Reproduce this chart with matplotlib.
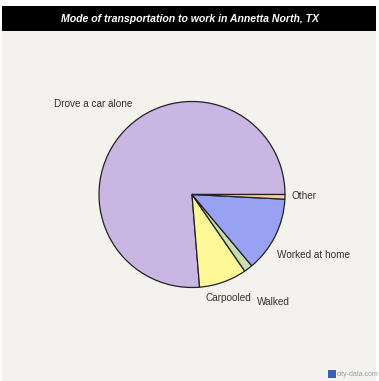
import matplotlib.pyplot as plt
from matplotlib.patches import Rectangle

# Commute mode shares (percent)
modes = ["Drove a car alone", "Carpooled", "Walked", "Worked at home", "Other"]
shares = [76.3, 8.3, 1.5, 13.1, 0.8]
colors = ["#c9b6e2", "#fff899", "#c6deb2", "#99a1f2", "#f5cf9e"]

W, H = 379, 381
fig = plt.figure(figsize=(W / 100, H / 100), dpi=100, facecolor="white")
ax = fig.add_axes([0, 0, 1, 1])

# panel background and title bar
ax.add_patch(Rectangle((2, 0), 374, H - 31, facecolor="#f3f2ee", edgecolor="none"))
ax.add_patch(Rectangle((2, H - 31), 374, 25, facecolor="black", edgecolor="none"))
ax.text(190, H - 18.5, "Mode of transportation to work in Annetta North, TX",
        ha="center", va="center", color="white", fontsize=7.6,
        fontweight="bold", fontstyle="italic", family="Liberation Sans")

ax.pie(shares, colors=colors, startangle=0, counterclock=True,
       center=(192, H - 194.5), radius=93,
       wedgeprops=dict(edgecolor="#222222", linewidth=0.9))

label_pos = {
    "Drove a car alone": (54, H - 104),
    "Other": (291, H - 196),
    "Worked at home": (277, H - 255),
    "Carpooled": (206, H - 298),
    "Walked": (257, H - 302),
}
for m in modes:
    x, y = label_pos[m]
    ax.text(x, y, m, ha="left", va="center", fontsize=7.2,
            color="#333333", family="Liberation Sans")

# watermark
ax.add_patch(Rectangle((328, H - 378), 8, 8, facecolor="#3a5fb0", edgecolor="none"))
ax.text(337, H - 374, "city-data.com", ha="left", va="center",
        fontsize=5, color="#9aa0a8", family="Liberation Sans")

ax.set_xlim(0, W)
ax.set_ylim(0, H)
ax.set_aspect("auto")
ax.axis("off")

fig.savefig("out.png", dpi=100, facecolor="white")
